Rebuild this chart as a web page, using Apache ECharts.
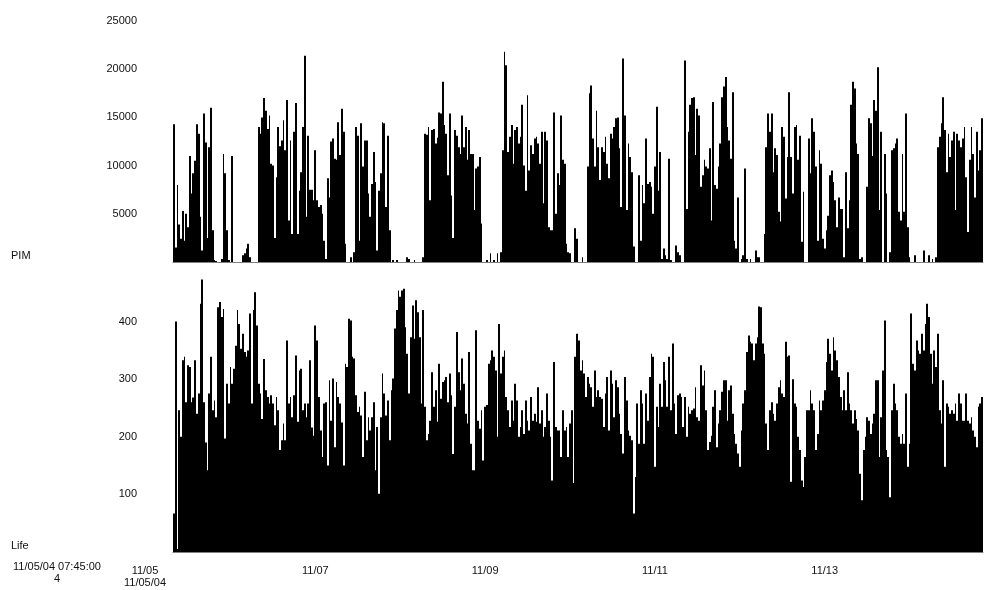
<!DOCTYPE html>
<html>
<head>
<meta charset="utf-8">
<script src="https://cdn.jsdelivr.net/npm/echarts@6/dist/echarts.min.js"></script>
<style>
html,body{margin:0;padding:0;background:#ffffff;}
#chart{width:984px;height:590px;}
</style>
</head>
<body>
<div id="chart"></div>
<script>
// Recording start: 11/05/04 07:45:00, one value every 30 minutes (hours since 11/05 00:00)
const startHour = 7.75;
const stepHours = 0.5;

const pimValues = [
14300,1500,8000,3900,2400,5300,2200,5000,3600,11000,
7100,9200,10500,14300,13300,4700,1200,15400,12400,2500,
11900,16000,3300,200,100,0,0,300,11200,9200,
3300,200,0,11000,0,0,0,0,0,700,
900,1400,1900,500,0,0,0,0,14000,13300,
15000,17000,15700,13800,15200,10200,10000,2500,8800,14000,
12000,12600,14700,11600,16800,4300,12600,2900,13500,16500,
2900,7400,9300,14000,21400,4700,13100,7500,7500,6400,
11600,6400,5700,5900,5000,2200,300,8700,6700,12500,
12800,10700,10600,14500,11100,15900,13500,1900,0,0,
500,0,1000,14000,13100,2200,14400,9900,12600,12600,
7100,4700,8100,11400,8300,1200,7400,9200,14500,14400,
5700,13100,3300,0,200,0,200,0,0,0,
0,0,500,300,0,0,200,0,0,0,
0,500,13300,13200,14000,6400,13700,13800,12300,12900,
15500,15400,18700,14200,13300,9000,15400,6900,2500,13700,
13100,11900,11200,15200,11900,14000,10600,13700,11200,11200,
5400,9700,9900,10900,4000,0,0,200,0,900,
0,200,0,900,0,1000,11600,21800,20400,11400,
13000,14200,10200,13700,14000,12300,13000,16300,10000,7400,
17300,9500,12100,11200,12800,13000,12300,10200,13500,6100,
13500,12600,3600,3300,3300,15500,5000,9200,8000,15200,
10600,10200,1900,1000,900,0,0,3500,2400,0,
0,500,0,0,9900,17500,18300,12800,9900,15700,
11900,8500,11900,11400,13000,10200,8700,13300,12800,14000,
14900,15000,11800,5700,21100,15200,5400,12300,10900,9300,
1600,0,0,9000,2200,8000,6100,12800,8100,8300,
7800,5000,9900,16100,7400,11400,300,1400,700,300,
10700,200,0,0,1700,1000,700,0,0,20900,
5500,13500,16300,17000,17100,11100,15900,15200,7800,9000,
10600,9900,9700,11800,4300,16600,8000,7600,9900,12300,
17100,18200,19200,14000,12600,10700,17600,2200,1400,6700,
0,300,700,9700,300,0,300,0,0,1200,
500,500,0,0,2900,11900,15400,13500,15400,9300,
11800,11100,5200,4200,14000,13000,6600,10900,17600,10900,
7100,14000,14200,10600,13100,2100,7300,0,0,12800,
9200,14900,13500,9900,2200,11600,10200,2400,1400,3300,
4800,9000,9500,8300,6400,3600,6700,5500,5500,500,
9300,3500,6400,16300,18700,18000,12300,11200,300,500,
0,0,7800,14900,14400,11000,16800,15700,20200,5400,
13500,0,11200,7100,0,1000,11600,11800,12300,12800,
5200,4300,11200,5200,15400,3600,500,0,0,700,
0,0,0,0,1200,0,0,700,0,300,
0,500,11900,13000,14400,17100,13700,9300,13300,10900,
12600,13500,5400,13300,12600,11900,12800,14000,8800,3100,
10600,14000,11200,6700,13500,9500,11600,14900
];

const lifeValues = [
67,400,5,246,200,333,339,260,324,321,
260,268,333,240,275,431,473,260,190,142,
275,339,246,263,234,425,434,408,422,197,
292,258,321,292,318,358,420,396,353,379,
347,339,350,414,258,420,451,393,292,275,
231,335,281,269,258,272,258,220,269,246,
177,194,223,194,367,258,269,234,272,341,
226,315,318,246,258,234,258,333,216,202,
393,367,269,211,165,258,260,150,298,228,
301,182,295,269,258,225,150,327,321,405,
402,339,336,272,243,252,237,165,278,194,
234,211,234,260,142,217,101,234,310,275,
237,263,194,281,301,388,420,454,443,454,
457,390,344,275,373,428,370,437,416,373,
258,420,252,194,205,228,312,252,281,226,
327,266,295,298,304,260,310,272,170,252,
382,312,281,336,292,240,223,347,188,142,
142,385,228,214,246,159,252,255,327,333,
350,339,315,200,396,310,339,350,269,246,
217,263,228,292,263,200,217,246,205,263,
228,211,269,228,240,226,286,223,246,200,
217,275,228,200,124,330,217,211,211,165,
246,211,217,165,223,246,120,339,379,367,
315,333,310,269,304,292,286,252,315,269,
281,269,266,217,275,304,211,315,292,234,
298,286,240,205,171,304,263,211,202,194,
67,130,258,188,281,258,188,275,228,304,
344,339,148,252,217,292,252,330,298,252,
339,246,362,258,205,272,275,269,217,269,
200,252,240,246,249,286,234,228,324,289,
315,246,177,191,202,252,281,182,223,246,
278,298,298,228,281,289,240,205,188,171,
148,211,258,281,347,376,365,362,333,362,
373,426,425,362,344,223,177,246,260,240,
228,258,286,298,275,269,365,339,341,122,
300,258,252,200,177,124,113,165,246,246,
281,258,246,177,205,263,246,263,281,330,
370,344,315,373,350,333,304,269,246,281,
246,312,258,246,223,246,231,211,136,90,
177,200,234,228,205,223,240,298,298,165,
234,315,402,177,165,95,246,292,258,246,
200,188,205,188,275,148,188,414,327,315,
367,350,344,379,350,396,431,408,344,292,
350,321,379,246,223,298,148,258,252,240,
246,240,258,228,275,258,228,228,275,228,
223,234,211,200,182,252,258,269
];

const pimTicks = [5000, 10000, 15000, 20000, 25000];
const lifeTicks = [100, 200, 300, 400];
const dateTickHours = [48, 96, 144, 192];
const dateTickLabels = ['11/07', '11/09', '11/11', '11/13'];
const firstDateLabel = '11/05\n11/05/04';
const startInfoText = '11/05/04 07:45:00\n4';
const panelNames = ['PIM', 'Life'];

const FONT = "'Liberation Sans', Arial, sans-serif";
const n = Math.max(pimValues.length, lifeValues.length);
const endHour = startHour + stepHours * n;
// each record: [interval start hour, value]
const toRecords = arr => arr.map((v, i) => [startHour + stepHours * i, v]);

// one filled column per 30-minute interval, placed by the axes' own scales,
// with column edges snapped to whole pixels so neighbouring columns leave no seams
function renderColumn(params, api) {
  const s = api.value(0);
  const v = api.value(1);
  const base = api.coord([s, 0]);
  const top = api.coord([s + stepHours, v]);
  const x0 = Math.round(base[0]);
  const x1 = Math.round(top[0]);
  const h = base[1] - top[1];
  if (h <= 0 || x1 <= x0) return null;
  return {
    type: 'rect',
    shape: {x: x0, y: top[1], width: x1 - x0, height: h},
    style: {fill: '#000000'}
  };
}

const chart = echarts.init(document.getElementById('chart'), null, {renderer: 'canvas'});

const xBase = {
  type: 'value', min: startHour, max: endHour,
  axisLine: {show: true, onZero: false, lineStyle: {color: '#808080', width: 1}},
  axisTick: {show: false},
  splitLine: {show: false}
};
const yBase = {
  type: 'value', min: 0,
  axisLine: {show: false}, axisTick: {show: false}, splitLine: {show: false}
};
const seriesBase = {
  type: 'custom', silent: true, clip: true,
  renderItem: renderColumn,
  encode: {x: 0, y: 1}
};

chart.setOption({
  animation: false,
  backgroundColor: '#ffffff',
  grid: [
    {left: 173, right: 1, top: 21, height: 241, outerBoundsMode: 'none', containLabel: false},
    {left: 173, right: 1, top: 275.5, height: 276.5, outerBoundsMode: 'none', containLabel: false}
  ],
  xAxis: [
    Object.assign({}, xBase, {gridIndex: 0, axisLabel: {show: false}}),
    Object.assign({}, xBase, {gridIndex: 1, axisLabel: {
      show: true, customValues: dateTickHours, margin: 13,
      color: '#111', fontSize: 11, fontFamily: FONT,
      formatter: v => { const k = dateTickHours.indexOf(v); return k >= 0 ? dateTickLabels[k] : ''; }
    }})
  ],
  yAxis: [
    Object.assign({}, yBase, {gridIndex: 0, max: 25000, interval: 5000, axisLabel: {
      margin: 36, color: '#111', fontSize: 11, fontFamily: FONT,
      formatter: v => pimTicks.indexOf(v) >= 0 ? String(v) : ''
    }}),
    Object.assign({}, yBase, {gridIndex: 1, max: 480, interval: 100, axisLabel: {
      margin: 36, color: '#111', fontSize: 11, fontFamily: FONT,
      formatter: v => lifeTicks.indexOf(v) >= 0 ? String(v) : ''
    }})
  ],
  series: [
    Object.assign({}, seriesBase, {name: panelNames[0], xAxisIndex: 0, yAxisIndex: 0, data: toRecords(pimValues)}),
    Object.assign({}, seriesBase, {name: panelNames[1], xAxisIndex: 1, yAxisIndex: 1, data: toRecords(lifeValues)})
  ],
  graphic: [
    {type: 'text', x: 11, y: 256, style: {text: panelNames[0], font: '11px ' + FONT, fill: '#111', textVerticalAlign: 'middle'}},
    {type: 'text', x: 11, y: 546, style: {text: panelNames[1], font: '11px ' + FONT, fill: '#111', textVerticalAlign: 'middle'}},
    {type: 'text', x: 57, y: 561, style: {text: startInfoText, font: '11px ' + FONT, fill: '#111', textAlign: 'center', lineHeight: 12}},
    {type: 'text', x: 145, y: 565, style: {text: firstDateLabel, font: '11px ' + FONT, fill: '#111', textAlign: 'center', lineHeight: 12}}
  ]
});
</script>
</body>
</html>
